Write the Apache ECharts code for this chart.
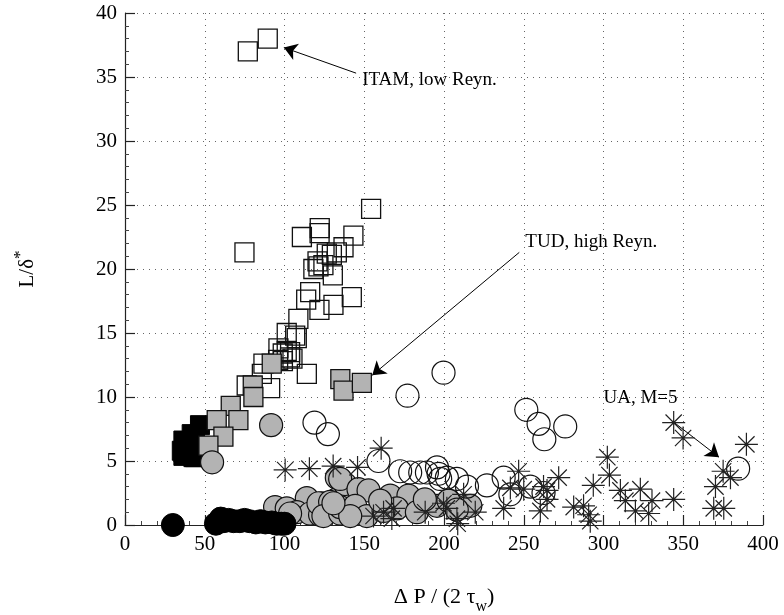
<!DOCTYPE html>
<html>
<head>
<meta charset="utf-8">
<script src="https://cdn.jsdelivr.net/npm/echarts@6/dist/echarts.min.js"></script>
<style>
  html, body { margin: 0; padding: 0; background: #fff; }
  #chart { width: 784px; height: 615px; }
</style>
</head>
<body>
<div id="chart"></div>
<script>
// Axis ticks
const xTicks = [0, 50, 100, 150, 200, 250, 300, 350, 400];
const yTicks = [0, 5, 10, 15, 20, 25, 30, 35, 40];

// ITAM, low Reynolds number (open squares)
const itamLow = [
  [77, 37.0], [89.5, 38.0], [74.9, 21.3], [110.9, 22.5], [122.1, 23.2], [122, 22.8],
  [143.2, 22.6], [154.3, 24.7], [137, 21.7], [126.5, 21.2], [129.7, 21.1], [118.1, 20.0],
  [121.3, 20.2], [130.3, 19.5], [132.8, 21.3], [124.4, 20.3], [120.7, 20.6], [116.1, 18.2],
  [113.6, 17.6], [121.9, 16.8], [130.7, 17.2], [142.2, 17.8], [108.7, 16.1], [101.4, 15.0],
  [106.7, 14.8], [98.9, 13.4], [103.5, 13.5], [107.7, 14.6], [101.4, 13.6], [96.2, 13.8],
  [103.5, 13.1], [86.8, 12.6], [85.8, 11.8], [114, 11.8], [91, 10.7], [76.3, 10.9],
  [99, 12.8], [105, 13.0], [96, 12.9]
];

// Black filled squares
const blackSquares = [
  [47, 7.8], [43.9, 7.0], [41.8, 7.1], [39.7, 6.3], [36.6, 6.6], [36.6, 5.8],
  [35.6, 5.8], [43.9, 5.3], [36.6, 5.4], [49, 6.1], [42.9, 5.3]
];

// TUD, high Reynolds number (grey squares)
const tudHigh = [
  [92, 12.6], [80.1, 10.9], [80.5, 10.0], [66.3, 9.3], [71.1, 8.2], [57.5, 8.2],
  [61.7, 6.9], [52.3, 6.2], [135, 11.4], [137, 10.5], [148.5, 11.1]
];

// Grey filled circles
const greyCircles = [
  [54.6, 4.9], [91.6, 7.8], [94.1, 1.4], [101.4, 1.3], [114, 2.1], [107.7, 1.0],
  [116, 0.9], [122.3, 0.8], [123.4, 1.7], [132.8, 2.0], [132.8, 3.7], [121.3, 1.7],
  [128.6, 1.8], [139.1, 2.2], [138, 3.2], [103.5, 0.9], [124.4, 0.7], [134.9, 0.9],
  [134.9, 3.6], [146.4, 2.8], [152.7, 2.7], [134.9, 1.4], [144.3, 1.5], [151.6, 0.7],
  [141.2, 0.7], [166.3, 2.3], [177.7, 2.3], [170.5, 1.3], [183, 1.0], [195.6, 1.5],
  [202.8, 1.9], [216.5, 1.5], [130.7, 1.7], [162.1, 1.1], [160, 1.9], [188, 2.0], [208, 1.2]
];

// Black filled circles
const blackCircles = [
  [30, 0.0], [57, 0.1], [60, 0.5], [62, 0.3], [65, 0.4], [68, 0.3], [72, 0.3], [75, 0.4],
  [78, 0.3], [82, 0.2], [85, 0.3], [88, 0.2], [92, 0.2], [95, 0.1], [98, 0.1], [100, 0.1]
];

// Open circles
const openCircles = [
  [118.8, 8.0], [127.2, 7.1], [199.7, 11.9], [177.1, 10.1], [251.6, 9.0], [259.3, 7.9],
  [276, 7.7], [262.9, 6.7], [158.9, 5.0], [172.5, 4.2], [178.8, 4.1], [185.1, 4.1],
  [195.6, 4.5], [196.6, 4.0], [201.8, 3.7], [208.1, 3.6], [214.4, 3.0], [226.9, 3.1],
  [237.4, 3.7], [241.6, 2.4], [254.1, 3.0], [262.4, 2.5], [384.4, 4.4], [189.3, 4.1], [197.6, 3.6]
];

// UA, M=5 (asterisks)
const uaM5 = [
  [100.4, 4.3], [115.6, 4.4], [130.5, 4.6], [145.8, 4.5], [160.6, 6.0], [155.8, 0.7],
  [162.1, 1.0], [168.4, 1.3], [167.3, 0.5], [188.2, 1.0], [199.7, 1.7], [201.8, 1.3],
  [208.1, 0.5], [212.3, 2.4], [219.6, 1.0], [237.4, 1.3], [246.8, 4.2], [241.6, 2.9],
  [250, 2.8], [262.4, 3.0], [260.4, 1.1], [271.9, 3.7], [264.6, 2.7], [264.6, 2.0],
  [281.3, 1.4], [287.5, 1.5], [290.7, 0.8], [291.7, 0.3], [293.6, 3.1], [302.4, 5.3],
  [303.7, 3.9], [310.6, 2.7], [313.7, 1.9], [323.1, 2.8], [320, 1.1], [328.3, 0.9],
  [330.4, 1.9], [344, 2.0], [344, 8.0], [349.9, 6.8], [389.6, 6.3], [375, 4.2],
  [379.6, 3.7], [370.2, 3.0], [369.1, 1.3], [375.4, 1.3], [208.6, 0.1]
];

// Annotation labels (anchored at the text's left edge) and their arrows, in data units
const noteTexts = ['ITAM, low Reyn.', 'TUD, high Reyn.', 'UA, M=5'];
const noteAnchors = [[148.7, 34.8], [251, 22.1], [300, 9.9]];
const arrowStarts = [[144.9, 35.3], [247.2, 21.3], [344.4, 8.0]];
const arrowEnds = [[99.6, 37.3], [155, 11.7], [372.4, 5.3]];

const FONT = "'Liberation Serif', 'Times New Roman', serif";
const INK = '#111';
const GREY = '#b3b3b3';
const STAR = 'path://M12,0V24M0,12H24M3.5,3.5L20.5,20.5M3.5,20.5L20.5,3.5';

const chart = echarts.init(document.getElementById('chart'), null, { renderer: 'canvas' });

function axisCommon(labelMargin) {
  return {
    axisLine: { show: true, lineStyle: { color: '#222', width: 1.2 } },
    axisTick: { show: true, inside: true, length: 10, lineStyle: { color: '#222', width: 1.2 } },
    minorTick: { show: true, splitNumber: 5, length: 4, lineStyle: { color: '#444', width: 1 } },
    splitLine: { show: true, lineStyle: { color: '#666', width: 1, type: [1, 5] } },
    axisLabel: { color: '#000', fontFamily: FONT, fontSize: 21, margin: labelMargin }
  };
}

const series = [
  {
    name: 'ITAM, low Reyn.', type: 'scatter', data: itamLow, symbol: 'rect', symbolSize: 19,
    itemStyle: { color: 'rgba(0,0,0,0)', borderColor: INK, borderWidth: 1.3 }, z: 2,
    markLine: {
      silent: true, symbol: ['none', 'arrow'], symbolSize: 13,
      label: { show: false },
      itemStyle: { color: '#000', opacity: 1 },
      lineStyle: { color: '#000', width: 1, type: 'solid', opacity: 1 },
      emphasis: { disabled: true },
      data: arrowStarts.map((s, i) => [{ coord: s }, { coord: arrowEnds[i] }])
    }
  },
  {
    name: 'black squares', type: 'scatter', data: blackSquares, symbol: 'rect', symbolSize: 19,
    itemStyle: { color: '#000', borderColor: '#000', borderWidth: 1 }, z: 3
  },
  {
    name: 'TUD, high Reyn.', type: 'scatter', data: tudHigh, symbol: 'rect', symbolSize: 19,
    itemStyle: { color: GREY, borderColor: INK, borderWidth: 1.3 }, z: 4
  },
  {
    name: 'grey circles', type: 'scatter', data: greyCircles, symbol: 'circle', symbolSize: 23,
    itemStyle: { color: GREY, borderColor: INK, borderWidth: 1.2 }, z: 5
  },
  {
    name: 'black circles', type: 'scatter', data: blackCircles, symbol: 'circle', symbolSize: 23,
    itemStyle: { color: '#000', borderColor: '#000', borderWidth: 1 }, z: 6
  },
  {
    name: 'open circles', type: 'scatter', data: openCircles, symbol: 'circle', symbolSize: 23,
    itemStyle: { color: 'rgba(0,0,0,0)', borderColor: INK, borderWidth: 1.2 }, z: 7
  },
  {
    name: 'UA, M=5', type: 'scatter', data: uaM5, symbol: STAR, symbolSize: 23,
    itemStyle: { color: 'rgba(0,0,0,0)', borderColor: '#222', borderWidth: 1.2 }, z: 8
  },
  {
    name: 'notes', type: 'scatter', symbolSize: 0, silent: true, z: 9,
    data: noteAnchors.map((p, i) => ({ value: p, name: noteTexts[i] })),
    label: {
      show: true, position: 'right', distance: 0, formatter: '{b}',
      color: '#000', fontFamily: FONT, fontSize: 19
    }
  }
];
series.forEach(s => {
  s.clip = false;
  s.itemStyle = Object.assign({}, s.itemStyle, { opacity: 1 });
  s.emphasis = { disabled: true };
});

chart.setOption({
  animation: false,
  backgroundColor: '#fff',
  grid: {
    left: 125, right: 21, top: 13, bottom: 90, show: false,
    containLabel: false, outerBoundsMode: 'none'
  },
  xAxis: Object.assign(axisCommon(9), {
    type: 'value',
    min: xTicks[0], max: xTicks[xTicks.length - 1], interval: xTicks[1] - xTicks[0],
    name: '{a|Δ P / (2 τ}{s|w}{a|)}',
    nameLocation: 'middle', nameGap: 54,
    nameTextStyle: {
      rich: {
        a: { fontFamily: FONT, fontSize: 22, color: '#000' },
        s: { fontFamily: FONT, fontSize: 16, color: '#000', padding: [20, 0, 0, 0] }
      }
    }
  }),
  yAxis: Object.assign(axisCommon(8), {
    type: 'value',
    min: yTicks[0], max: yTicks[yTicks.length - 1], interval: yTicks[1] - yTicks[0],
    name: '{a|L/δ}{p|*}',
    nameLocation: 'middle', nameGap: 82, nameRotate: 90,
    nameTextStyle: {
      rich: {
        a: { fontFamily: FONT, fontSize: 21, color: '#000' },
        p: { fontFamily: FONT, fontSize: 17, color: '#000', padding: [0, 0, 14, 0] }
      }
    }
  }),
  series: series
});
</script>
</body>
</html>
